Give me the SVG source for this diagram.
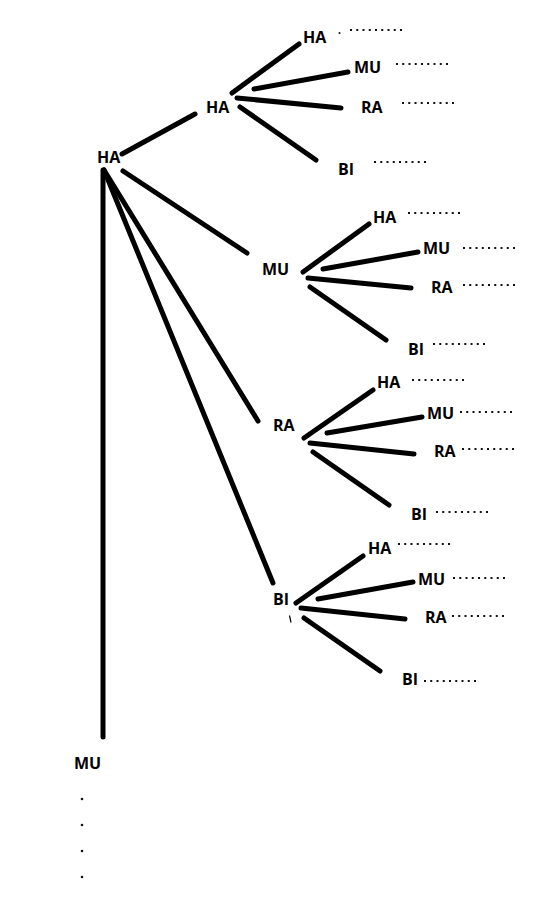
<svg xmlns="http://www.w3.org/2000/svg" width="548" height="911" viewBox="0 0 548 911">
<style>
.e{stroke:#000;stroke-width:5;stroke-linecap:round;fill:none}
.d{stroke:#111;stroke-width:2;stroke-dasharray:2 4.25;fill:none}
text{font-family:"Open Sans","Liberation Sans",sans-serif;font-weight:bold;font-size:16px;fill:#000}
</style>
<rect width="548" height="911" fill="#fff"/>
<g id="connectors">
<path class="e" d="M122 154L195 114"/>
<path class="e" d="M123 171L247 253"/>
<path class="e" d="M103 170L103 737"/>
<path class="e" d="M104 170L258 421"/>
<path class="e" d="M104 170L273 583"/>
<path class="e" d="M232 93L299 44"/>
<path class="e" d="M254 89L348 72"/>
<path class="e" d="M237 98L341 108"/>
<path class="e" d="M240 107L316 160"/>
<path class="e" d="M303 272L369 224"/>
<path class="e" d="M323 269L418 252"/>
<path class="e" d="M308 278L411 288"/>
<path class="e" d="M310 287L386 340"/>
<path class="e" d="M304 438L373 390"/>
<path class="e" d="M327 433L422 417"/>
<path class="e" d="M310 443L414 454"/>
<path class="e" d="M313 452L389 505"/>
<path class="e" d="M296 603L363 556"/>
<path class="e" d="M318 599L413 582"/>
<path class="e" d="M301 608L405 619"/>
<path class="e" d="M304 618L380 671"/>
</g>
<g id="root-HA"><text x="97" y="163">HA</text></g>
<g id="l1-HA"><text x="206" y="113">HA</text></g>
<g id="l1-HA-HA"><text x="303" y="43">HA</text><circle cx="339.5" cy="33" r="1" fill="#111"/><path class="d" d="M350 30h52"/></g>
<g id="l1-HA-MU"><text x="354" y="73">MU</text><path class="d" d="M396 64h52"/></g>
<g id="l1-HA-RA"><text x="361" y="113">RA</text><path class="d" d="M402 103h52"/></g>
<g id="l1-HA-BI"><text x="338" y="175">BI</text><path class="d" d="M374 162h52"/></g>
<g id="l1-MU"><text x="262" y="275">MU</text></g>
<g id="l1-MU-HA"><text x="373" y="223">HA</text><path class="d" d="M408 213h52"/></g>
<g id="l1-MU-MU"><text x="423" y="254">MU</text><path class="d" d="M463 248h52"/></g>
<g id="l1-MU-RA"><text x="431" y="293">RA</text><path class="d" d="M463 285h52"/></g>
<g id="l1-MU-BI"><text x="408" y="355">BI</text><path class="d" d="M433 344h52"/></g>
<g id="l1-RA"><text x="273" y="431">RA</text></g>
<g id="l1-RA-HA"><text x="377" y="388">HA</text><path class="d" d="M412 380h52"/></g>
<g id="l1-RA-MU"><text x="427" y="419">MU</text><path class="d" d="M460 412h52"/></g>
<g id="l1-RA-RA"><text x="434" y="457">RA</text><path class="d" d="M462 449h52"/></g>
<g id="l1-RA-BI"><text x="411" y="520">BI</text><path class="d" d="M436 512h52"/></g>
<g id="l1-BI"><text x="273" y="605">BI</text><path d="M289.5 615.5L291 622.5" stroke="#000" stroke-width="1.2" fill="none"/></g>
<g id="l1-BI-HA"><text x="368" y="554">HA</text><path class="d" d="M398 544h52"/></g>
<g id="l1-BI-MU"><text x="418" y="585">MU</text><path class="d" d="M453 578h52"/></g>
<g id="l1-BI-RA"><text x="425" y="623">RA</text><path class="d" d="M452 616h52"/></g>
<g id="l1-BI-BI"><text x="402" y="685">BI</text><path class="d" d="M424 681h52"/></g>
<g id="l1-MU-bottom"><text x="74" y="769">MU</text>
<circle cx="82" cy="799" r="1.3" fill="#111"/>
<circle cx="82" cy="825" r="1.3" fill="#111"/>
<circle cx="82" cy="851" r="1.3" fill="#111"/>
<circle cx="82" cy="877" r="1.3" fill="#111"/>
</g>
</svg>
